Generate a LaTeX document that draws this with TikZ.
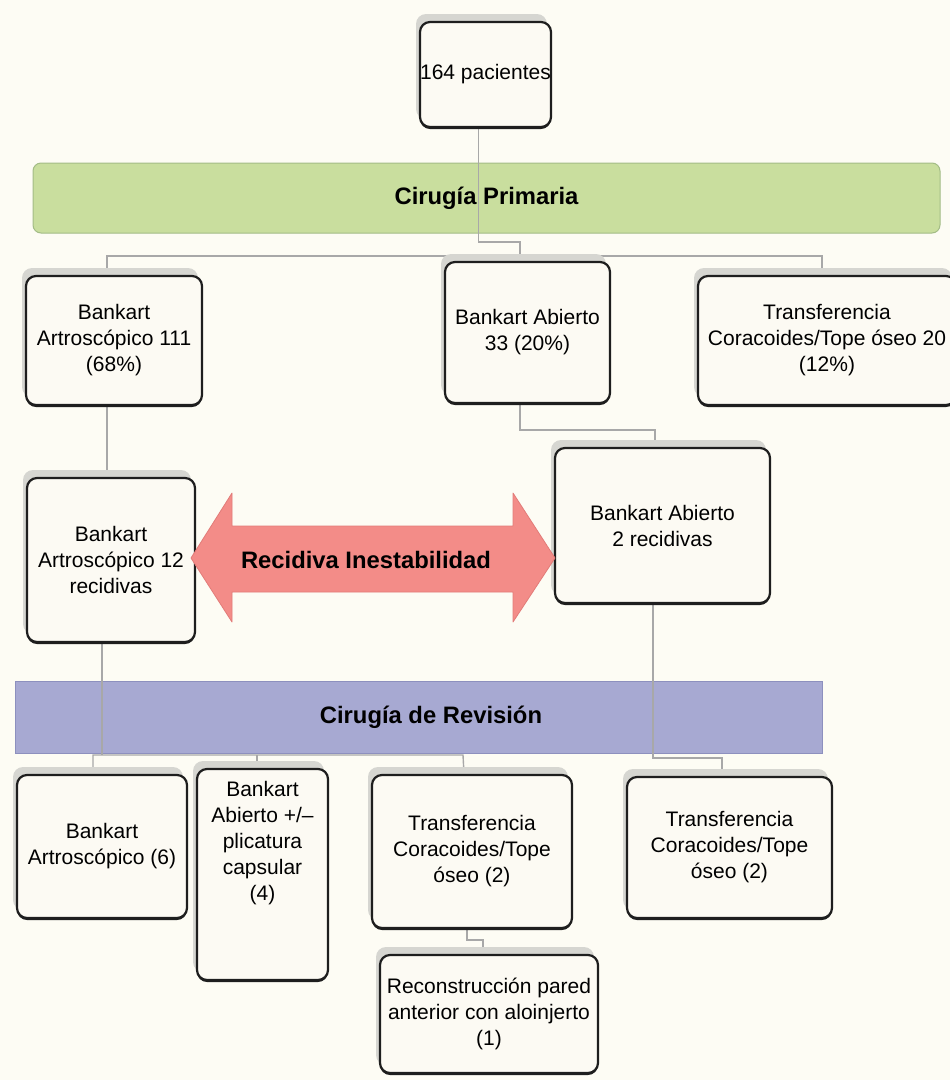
\documentclass[tikz,border=0pt]{standalone}
\usepackage{fontspec}
\setmainfont{Liberation Sans}
\usetikzlibrary{shadows}
\definecolor{bgc}{HTML}{FDFCF4}
\definecolor{boxfill}{HTML}{FCFAF3}
\definecolor{boxline}{HTML}{1E1E1E}
\definecolor{shad}{HTML}{D6D6D1}
\definecolor{greenfill}{HTML}{C9DE9E}
\definecolor{greenline}{HTML}{A3BC86}
\definecolor{purplefill}{HTML}{A7A9D2}
\definecolor{purpleline}{HTML}{8D90BE}
\definecolor{arrowfill}{HTML}{F38C88}
\definecolor{arrowline}{HTML}{E27B78}
\definecolor{linec}{HTML}{A8A8A8}
\pgfdeclarelayer{bg}
\pgfdeclarelayer{lines}
\pgfsetlayers{bg,lines,main}
\tikzset{
  box/.style={draw=boxline, line width=2.2pt, fill=boxfill, rounded corners=10pt,
    inner sep=0pt, align=center, font=\fontsize{21}{26}\selectfont,
    general shadow={fill=shad, shadow xshift=-4pt, shadow yshift=8pt},
    general shadow={fill=boxline, shadow yshift=-2pt}},
  plaintext/.style={inner sep=0pt, align=center, font=\fontsize{21}{26}\selectfont},
  bartext/.style={inner sep=0pt, font=\fontsize{23.8}{28}\selectfont\bfseries},
  greenbar/.style={bartext, fill=greenfill, draw=greenline, line width=1pt, rounded corners=8pt,
    minimum width=907pt, minimum height=70pt},
  purplebar/.style={inner sep=0pt, fill=purplefill, draw=purpleline, line width=1pt,
    minimum width=807pt, minimum height=72pt},
  conn/.style={draw=linec, line width=1.4pt},
  arrowshape/.style={fill=arrowfill, draw=arrowline, line width=0.8pt, line join=round}
}
\begin{document}
\begin{tikzpicture}[x=1pt,y=-1pt]
\useasboundingbox (0,0) rectangle (950,1080);
\begin{pgfonlayer}{bg}
  \fill[bgc] (0,0) rectangle (950,1080);
  \node[greenbar] (prim) at (486.5,198) {Cirugía Primaria};
  \node[purplebar] (rev) at (418.5,717) {};
  \node[bartext] (revt) at (431,717) {Cirugía de Revisión};
\end{pgfonlayer}

% boxes
\node[box, minimum width=131pt, minimum height=105pt] (n0) at (485.5,74.5) {164 pacientes};
\node[box, minimum width=176pt, minimum height=129pt] (b1) at (114,340.5) {Bankart\\Artroscópico 111\\(68\%)};
\node[box, minimum width=165pt, minimum height=141pt] (b2) at (527.5,332.5) {Bankart Abierto\\33 (20\%)};
\node[box, minimum width=258pt, minimum height=129pt] (b3) at (827,340.5) {Transferencia\\Coracoides/Tope óseo 20\\(12\%)};
\node[box, minimum width=168pt, minimum height=164pt] (r1) at (111,560) {Bankart\\Artroscópico 12\\recidivas};
\node[box, minimum width=215pt, minimum height=155pt] (r2) at (662.5,525.5) {Bankart Abierto\\2 recidivas};
\node[box, minimum width=170pt, minimum height=143pt] (c1) at (102,846.5) {Bankart\\Artroscópico (6)};
\node[box, minimum width=131pt, minimum height=211pt] (c2) at (262.5,874.5) {};
\node[plaintext] (c2t) at (262.5,843) {Bankart\\Abierto +/–\\plicatura\\capsular\\(4)};
\node[box, minimum width=200pt, minimum height=153pt] (c3) at (472,851.5) {Transferencia\\Coracoides/Tope\\óseo (2)};
\node[box, minimum width=205pt, minimum height=141pt] (c4) at (729.5,847.5) {Transferencia\\Coracoides/Tope\\óseo (2)};
\node[box, minimum width=218pt, minimum height=118pt] (c5) at (489,1014) {Reconstrucción pared\\anterior con aloinjerto\\(1)};

% double arrow
\filldraw[arrowshape] (191,558) -- (232,493) -- (232,526) -- (513,526) -- (513,493) -- (555,558)
  -- (513,622) -- (513,592) -- (232,592) -- (232,622) -- cycle;
\node[bartext] (recid) at (366,560) {Recidiva Inestabilidad};

% connectors
\begin{pgfonlayer}{lines}
  \draw[conn] ([xshift=-7pt]n0.south) |- (520,242) -- ([xshift=-7.5pt]b2.north);
  \draw[conn] ([xshift=-7pt]b1.north) |- (822,256) -- ([xshift=-5pt]b3.north);
  \draw[conn] ([xshift=-7pt]b1.south) -- ([xshift=-4pt]r1.north);
  \draw[conn] ([xshift=-7.5pt]b2.south) |- (655,430) -- ([xshift=-7.5pt]r2.north);
  \draw[conn] ([xshift=-9pt]r1.south) -- (102,755);
  \draw[conn] ([xshift=-9pt]c1.north) |- (463,755) -- ([xshift=-8pt]c3.north);
  \draw[conn] ([xshift=-5.5pt]c2.north) -- (257,755);
  \draw[conn] ([xshift=-9.5pt]r2.south) |- (722,758) -- ([xshift=-7.5pt]c4.north);
  \draw[conn] ([xshift=-5pt]c3.south) |- (483,940) -- ([xshift=-6pt]c5.north);
\end{pgfonlayer}
\end{tikzpicture}
\end{document}
